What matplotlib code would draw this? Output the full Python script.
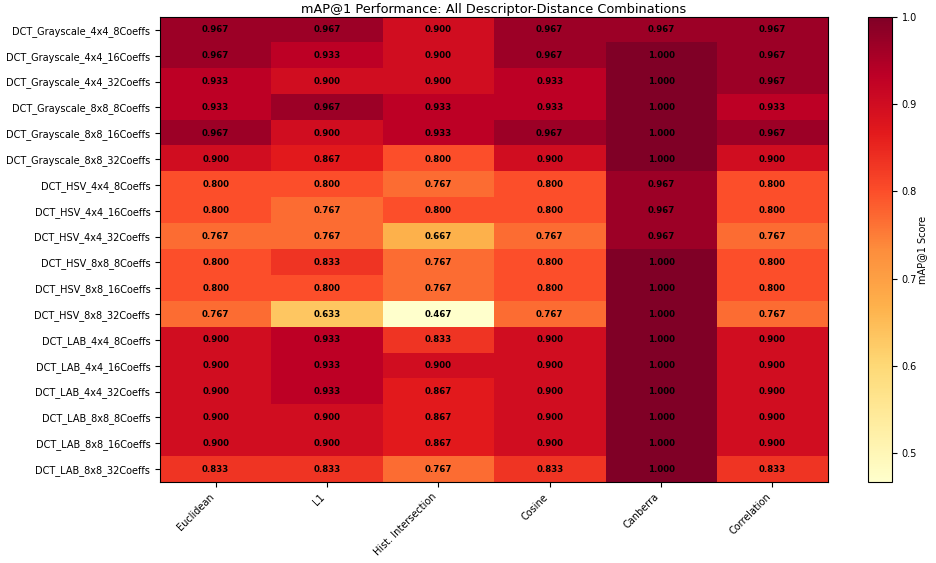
import matplotlib
matplotlib.use('Agg')
import numpy as np
import matplotlib.pyplot as plt

descriptors = ['DCT_Grayscale_4x4_8Coeffs', 'DCT_Grayscale_4x4_16Coeffs', 'DCT_Grayscale_4x4_32Coeffs',
               'DCT_Grayscale_8x8_8Coeffs', 'DCT_Grayscale_8x8_16Coeffs', 'DCT_Grayscale_8x8_32Coeffs',
               'DCT_HSV_4x4_8Coeffs', 'DCT_HSV_4x4_16Coeffs', 'DCT_HSV_4x4_32Coeffs',
               'DCT_HSV_8x8_8Coeffs', 'DCT_HSV_8x8_16Coeffs', 'DCT_HSV_8x8_32Coeffs',
               'DCT_LAB_4x4_8Coeffs', 'DCT_LAB_4x4_16Coeffs', 'DCT_LAB_4x4_32Coeffs',
               'DCT_LAB_8x8_8Coeffs', 'DCT_LAB_8x8_16Coeffs', 'DCT_LAB_8x8_32Coeffs']
distances = ['Euclidean', 'L1', 'Hist. Intersection', 'Cosine', 'Canberra', 'Correlation']

scores = [
    [0.967, 0.967, 0.900, 0.967, 0.967, 0.967],
    [0.967, 0.933, 0.900, 0.967, 1.000, 0.967],
    [0.933, 0.900, 0.900, 0.933, 1.000, 0.967],
    [0.933, 0.967, 0.933, 0.933, 1.000, 0.933],
    [0.967, 0.900, 0.933, 0.967, 1.000, 0.967],
    [0.900, 0.867, 0.800, 0.900, 1.000, 0.900],
    [0.800, 0.800, 0.767, 0.800, 0.967, 0.800],
    [0.800, 0.767, 0.800, 0.800, 0.967, 0.800],
    [0.767, 0.767, 0.667, 0.767, 0.967, 0.767],
    [0.800, 0.833, 0.767, 0.800, 1.000, 0.800],
    [0.800, 0.800, 0.767, 0.800, 1.000, 0.800],
    [0.767, 0.633, 0.467, 0.767, 1.000, 0.767],
    [0.900, 0.933, 0.833, 0.900, 1.000, 0.900],
    [0.900, 0.933, 0.900, 0.900, 1.000, 0.900],
    [0.900, 0.933, 0.867, 0.900, 1.000, 0.900],
    [0.900, 0.900, 0.867, 0.900, 1.000, 0.900],
    [0.900, 0.900, 0.867, 0.900, 1.000, 0.900],
    [0.833, 0.833, 0.767, 0.833, 1.000, 0.833],
]

mat = np.array(scores)

fig = plt.figure(figsize=(9.37, 5.63), dpi=100)
ax = fig.add_axes([0.1708, 0.1439, 0.713, 0.826])
cax = fig.add_axes([0.9264, 0.1439, 0.0256, 0.826])

im = ax.imshow(mat, cmap='YlOrRd', aspect='auto', vmin=mat.min(), vmax=mat.max())

ax.set_xticks(range(len(distances)))
ax.set_xticklabels(distances, rotation=45, ha='right', fontsize=7)
ax.set_yticks(range(len(descriptors)))
ax.set_yticklabels(descriptors, fontsize=7)
ax.set_title('mAP@1 Performance: All Descriptor-Distance Combinations', fontsize=9.3, pad=3)

for i in range(mat.shape[0]):
    for j in range(mat.shape[1]):
        ax.text(j, i, '%.3f' % mat[i, j], ha='center', va='center',
                fontsize=6.2, fontweight='bold', color='black')

cb = fig.colorbar(im, cax=cax)
cb.ax.tick_params(labelsize=7)
cb.set_label('mAP@1 Score', fontsize=7, labelpad=0)

plt.savefig('out.png', dpi=100)
